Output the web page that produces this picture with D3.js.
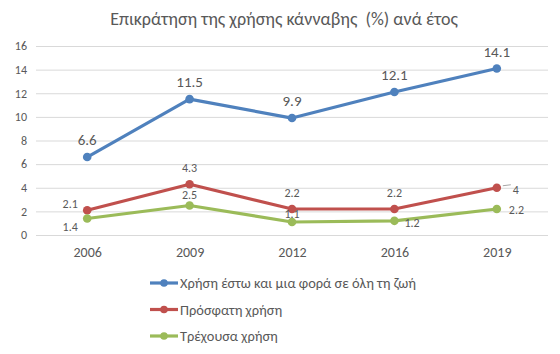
<!DOCTYPE html>
<html>
<head>
<meta charset="utf-8">
<script src="https://d3js.org/d3.v7.min.js"></script>
<style>
  body { margin: 0; background: #fff; }
  svg text { font-family: Calibri, Carlito, "Open Sans", "Noto Sans", sans-serif; fill: #595959; }
</style>
</head>
<body>
<div id="chart"></div>
<script>
// data
var years = ["2006", "2009", "2012", "2016", "2019"];
var lifetime = [6.6, 11.5, 9.9, 12.1, 14.1];
var recent = [2.1, 4.3, 2.2, 2.2, 4];
var current = [1.4, 2.5, 1.1, 1.2, 2.2];
var seriesNames = ["Χρήση έστω και μια φορά σε όλη τη ζωή", "Πρόσφατη χρήση", "Τρέχουσα χρήση"];
var yTicks = [0, 2, 4, 6, 8, 10, 12, 14, 16];

var width = 560, height = 354;
var svg = d3.select("#chart").append("svg")
  .attr("width", width).attr("height", height);

// scales
var x = d3.scalePoint().domain(years).range([36, 548]).padding(0.5);
var y = d3.scaleLinear().domain([0, 16]).range([235, 46]);

// title
svg.append("text")
  .attr("x", 284).attr("y", 25)
  .attr("text-anchor", "middle")
  .style("font-size", "18px")
  .style("white-space", "pre")
  .text("Επικράτηση της χρήσης κάνναβης  (%) ανά έτος");

// gridlines + y labels
var yAxis = d3.axisLeft(y).tickValues(yTicks).tickSize(-512).tickPadding(9);
var gy = svg.append("g").attr("transform", "translate(36,0)").call(yAxis);
gy.select(".domain").remove();
gy.selectAll("line").attr("stroke", "#d9d9d9");
gy.selectAll("text").style("font-size", "12px").attr("fill", "#595959");

// x labels
var xAxis = d3.axisBottom(x).tickSize(0).tickPadding(12);
var gx = svg.append("g").attr("transform", "translate(0,235)").call(xAxis);
gx.select(".domain").remove();
gx.selectAll("text").style("font-size", "14px").attr("fill", "#595959");

// series
var colors = ["#4f81bd", "#c0504d", "#9bbb59"];
var allSeries = [lifetime, recent, current];
// label placement: dx, dy relative to point, anchor
var place = [
  [[0, -17, "middle"], [0, -17, "middle"], [0, -17, "middle"], [0, -17, "middle"], [0, -17, "middle"]],
  [[-17, -6, "middle"], [0, -16, "middle"], [0, -16, "middle"], [0, -16, "middle"], [16, 2, "start"]],
  [[-17, 8, "middle"], [0, -11, "middle"], [0, -8, "middle"], [10, 2, "start"], [12, 1, "start"]]
];
var labelSize = ["15px", "12px", "12px"];

var line = d3.line()
  .x(function(d, i) { return x(years[i]); })
  .y(function(d) { return y(d); });

allSeries.forEach(function(vals, s) {
  svg.append("path")
    .datum(vals)
    .attr("d", line)
    .attr("fill", "none")
    .attr("stroke", colors[s])
    .attr("stroke-width", 3.2)
    .attr("stroke-linejoin", "round");

  svg.selectAll(".pt" + s).data(vals).enter()
    .append("circle")
    .attr("cx", function(d, i) { return x(years[i]); })
    .attr("cy", function(d) { return y(d); })
    .attr("r", 4.3)
    .attr("fill", colors[s]);
});

// leader line for the "4" label
svg.append("line")
  .attr("x1", x("2019") + 6).attr("x2", x("2019") + 14)
  .attr("y1", y(4) - 2).attr("y2", y(4) - 3)
  .attr("stroke", "#a6a6a6").attr("stroke-width", 1);

allSeries.forEach(function(vals, s) {
  svg.selectAll(".lb" + s).data(vals).enter()
    .append("text")
    .attr("x", function(d, i) { return x(years[i]) + place[s][i][0]; })
    .attr("y", function(d, i) { return y(d) + place[s][i][1]; })
    .attr("dy", "0.35em")
    .attr("text-anchor", function(d, i) { return place[s][i][2]; })
    .style("font-size", labelSize[s])
    .text(function(d) { return d; });
});

// legend
var legend = svg.selectAll(".leg").data(seriesNames).enter()
  .append("g")
  .attr("transform", function(d, i) { return "translate(150," + (283 + i * 26.5) + ")"; });
legend.append("line")
  .attr("x1", 0).attr("x2", 28)
  .attr("stroke", function(d, i) { return colors[i]; })
  .attr("stroke-width", 3.2);
legend.append("circle")
  .attr("cx", 14).attr("r", 3.8)
  .attr("fill", function(d, i) { return colors[i]; });
legend.append("text")
  .attr("x", 30).attr("dy", "0.35em")
  .style("font-size", "14.4px")
  .text(function(d) { return d; });
</script>
</body>
</html>
